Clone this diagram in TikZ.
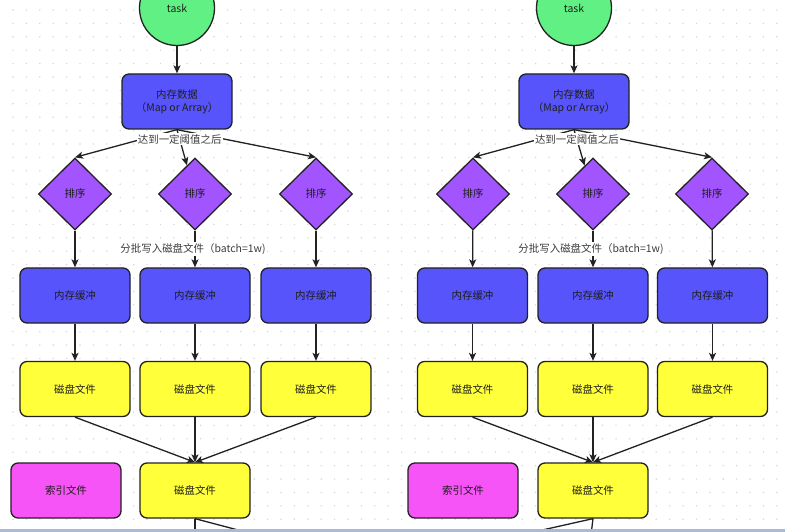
\documentclass[tikz,border=0pt]{standalone}
\usepackage{fontspec}
\setmainfont{Noto Sans CJK SC}
\usetikzlibrary{shapes.geometric,arrows.meta}
\definecolor{cgreen}{RGB}{96,240,132}
\definecolor{cblue}{RGB}{86,84,250}
\definecolor{cpurple}{RGB}{162,84,255}
\definecolor{cyellow}{RGB}{255,255,58}
\definecolor{cmagenta}{RGB}{246,84,246}
\definecolor{cline}{RGB}{34,34,34}
\definecolor{cdot}{RGB}{214,214,214}
\definecolor{cbar}{RGB}{170,186,214}
\definecolor{ctext}{RGB}{30,30,30}
\definecolor{clbl}{RGB}{60,60,60}
\begin{document}
\begin{tikzpicture}[x=1bp,y=-1bp,
  base/.style={draw=cline, line width=1.3bp, text=ctext, font=\fontsize{10.5}{13}\selectfont, align=center},
  box/.style={base, rectangle, rounded corners=7bp, minimum width=110bp, minimum height=55bp},
  blue/.style={box, fill=cblue},
  yel/.style={box, fill=cyellow},
  mag/.style={box, fill=cmagenta},
  diam/.style={base, diamond, fill=cpurple, minimum width=73bp, minimum height=72bp, inner sep=0pt},
  circ/.style={base, circle, fill=cgreen, minimum size=75bp, inner sep=0pt},
  edge/.style={draw=cline, line width=1.3bp, -{Stealth[length=8bp,width=7bp,inset=2bp]}},
  plain/.style={draw=cline, line width=1.3bp},
  lbl/.style={fill=white, inner sep=1bp, text=clbl, font=\fontsize{10.5}{13}\selectfont}
]
\useasboundingbox (0,0) rectangle (785,532);
\clip (0,0) rectangle (785,532);
\fill[white] (0,0) rectangle (785,532);
% dot grid
\foreach \i in {0,...,58} {
  \foreach \j in {0,...,39} {
    \fill[cdot] ({13+13.4*\i},{10+13.4*\j}) circle (0.8bp);
  }
}

% ---------------- left diagram ----------------
\node[circ] (tL) at (177,8) {task};
\node[blue] (mL) at (177,101.5) {内存数据\\（Map or Array）};
\node[diam] (d1L) at (75,194) {排序};
\node[diam] (d2L) at (195,194) {排序};
\node[diam] (d3L) at (316,194) {排序};
\node[blue] (b1L) at (75,295.5) {内存缓冲};
\node[blue] (b2L) at (195,295.5) {内存缓冲};
\node[blue] (b3L) at (316,295.5) {内存缓冲};
\node[yel] (f1L) at (75,389) {磁盘文件};
\node[yel] (f2L) at (195,389) {磁盘文件};
\node[yel] (f3L) at (316,389) {磁盘文件};
\node[mag] (iL) at (66,490.5) {索引文件};
\node[yel] (gL) at (195,490.5) {磁盘文件};
\coordinate (eaL) at (195,535);
\coordinate (ebL) at (257,535);

\draw[edge] (tL) -- (mL);
\draw[edge] (mL.south) -- (d1L.north);
\draw[edge] (mL.south) -- (d3L.north);
\draw[edge] (mL.south) -- (d2L) node[lbl, pos=0.27] {达到一定阈值之后};
\draw[edge] (d1L) -- (b1L);
\draw[edge] (d3L) -- (b3L);
\draw[edge] (d2L) -- (b2L) node[lbl, pos=0.5, xshift=-2bp] {分批写入磁盘文件（batch=1w)};
\draw[edge] (b1L) -- (f1L);
\draw[edge] (b2L) -- (f2L);
\draw[edge] (b3L) -- (f3L);
\draw[edge] (f1L.south) -- (gL.north);
\draw[edge] (f2L.south) -- (gL.north);
\draw[edge] (f3L.south) -- (gL.north);
\draw[plain] (gL.south) -- (eaL);
\draw[plain] (gL.south) -- (ebL);

% ---------------- right diagram ----------------
\node[circ] (tR) at (574,8) {task};
\node[blue] (mR) at (574,101.5) {内存数据\\（Map or Array）};
\node[diam] (d1R) at (473,194) {排序};
\node[diam] (d2R) at (593,194) {排序};
\node[diam] (d3R) at (712,194) {排序};
\node[blue] (b1R) at (472.5,295.5) {内存缓冲};
\node[blue] (b2R) at (593,295.5) {内存缓冲};
\node[blue] (b3R) at (712.5,295.5) {内存缓冲};
\node[yel] (f1R) at (472.5,389) {磁盘文件};
\node[yel] (f2R) at (593,389) {磁盘文件};
\node[yel] (f3R) at (712.5,389) {磁盘文件};
\node[mag] (iR) at (463,490.5) {索引文件};
\node[yel] (gR) at (593,490.5) {磁盘文件};
\coordinate (eaR) at (591,535);
\coordinate (ebR) at (520,535);

\draw[edge] (tR) -- (mR);
\draw[edge] (mR.south) -- (d1R.north);
\draw[edge] (mR.south) -- (d3R.north);
\draw[edge] (mR.south) -- (d2R) node[lbl, pos=0.27] {达到一定阈值之后};
\draw[edge] (d1R) -- (b1R);
\draw[edge] (d3R) -- (b3R);
\draw[edge] (d2R) -- (b2R) node[lbl, pos=0.5, xshift=-2bp] {分批写入磁盘文件（batch=1w)};
\draw[edge] (b1R) -- (f1R);
\draw[edge] (b2R) -- (f2R);
\draw[edge] (b3R) -- (f3R);
\draw[edge] (f1R.south) -- (gR.north);
\draw[edge] (f2R.south) -- (gR.north);
\draw[edge] (f3R.south) -- (gR.north);
\draw[plain] (gR.south) -- (eaR);
\draw[plain] (gR.south) -- (ebR);

% bottom bar
\fill[cbar] (0,529) rectangle (785,532);
\end{tikzpicture}
\end{document}
